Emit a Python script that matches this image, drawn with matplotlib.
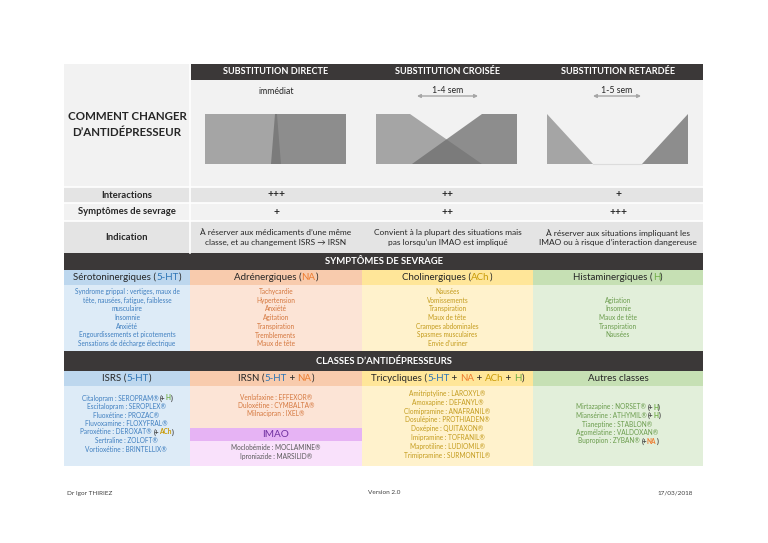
import matplotlib
matplotlib.use("Agg")
import matplotlib.pyplot as plt
from matplotlib.patches import Rectangle, Polygon

plt.rcParams['font.family'] = ['Lato', 'DejaVu Sans']

# ------ donnees ------
titre = ["COMMENT CHANGER", "D\u2019ANTIDÉPRESSEUR"]
methodes = ["SUBSTITUTION DIRECTE", "SUBSTITUTION CROISÉE", "SUBSTITUTION RETARDÉE"]
delais = ["immédiat", "1-4 sem", "1-5 sem"]
lignes = ["Interactions", "Symptômes de sevrage", "Indication"]
interactions = ["+++", "++", "+"]
sevrage = ["+", "++", "+++"]
indications = [
    "À réserver aux médicaments d\u2019une même\nclasse, et au changement ISRS \u2192 IRSN",
    "Convient à la plupart des situations mais\npas lorsqu\u2019un IMAO est impliqué",
    "À réserver aux situations impliquant les\nIMAO ou à risque d\u2019interaction dangereuse",
]

titre_sevrage = "SYMPTÔMES DE SEVRAGE"
familles = [("Sérotoninergiques", ["5-HT"]), ("Adrénergiques", ["NA"]),
            ("Cholinergiques", ["ACh"]), ("Histaminergiques", ["H"])]
sympt_5ht = ["Syndrome grippal : vertiges, maux de", "tête, nausées, fatigue, faiblesse",
             "musculaire", "Insomnie", "Anxiété", "Engourdissements et picotements",
             "Sensations de décharge électrique"]
sympt_na = ["Tachycardie", "Hypertension", "Anxiété", "Agitation", "Transpiration",
            "Tremblements", "Maux de tête"]
sympt_ach = ["Nausées", "Vomissements", "Transpiration", "Maux de tête",
             "Crampes abdominales", "Spasmes musculaires", "Envie d\u2019uriner"]
sympt_h = ["Agitation", "Insomnie", "Maux de tête", "Transpiration", "Nausées"]

titre_classes = "CLASSES D\u2019ANTIDÉPRESSEURS"
classes = [("ISRS", ["5-HT"]), ("IRSN", ["5-HT", "NA"]),
           ("Tricycliques", ["5-HT", "NA", "ACh", "H"]), ("Autres classes", [])]
isrs = [("Citalopram : SEROPRAM®", "H"), ("Escitalopram : SEROPLEX®", None),
        ("Fluoxétine : PROZAC®", None), ("Fluvoxamine : FLOXYFRAL®", None),
        ("Paroxétine : DEROXAT®", "ACh"), ("Sertraline : ZOLOFT®", None),
        ("Vortioxétine : BRINTELLIX®", None)]
irsn = ["Venlafaxine : EFFEXOR®", "Duloxétine : CYMBALTA®", "Milnacipran : IXEL®"]
imao = ["Moclobémide : MOCLAMINE®", "Iproniazide : MARSILID®"]
tricycliques = ["Amitriptyline : LAROXYL®", "Amoxapine : DEFANYL®",
                "Clomipramine : ANAFRANIL®", "Dosulépine : PROTHIADEN®",
                "Doxépine : QUITAXON®", "Imipramine : TOFRANIL®",
                "Maprotiline : LUDIOMIL®", "Trimipramine : SURMONTIL®"]
autres = [("Mirtazapine : NORSET®", "H"), ("Miansérine : ATHYMIL®", "H"),
          ("Tianeptine : STABLON®", None), ("Agomélatine : VALDOXAN®", None),
          ("Bupropion : ZYBAN®", "NA")]

pied = ["Dr Igor THIRIEZ", "Version 2.0", "17/03/2018"]

# ------ styles ------
SOMBRE = '#3b3838'
TXT = '#262626'
nt_col = {"5-HT": '#2e75b6', "NA": '#ed7d31', "ACh": '#c99a06', "H": '#70ad47'}
entete_bg = ['#bdd7ee', '#f8cbad', '#ffe699', '#c6e0b4']
corps_bg = ['#ddebf7', '#fce4d6', '#fff2cc', '#e2efda']
corps_txt = ['#3f7fc0', '#d5773e', '#c49b1c', '#6a9c4c']
cols = [64, 190, 362, 533, 703]

fig = plt.figure(figsize=(7.68, 5.43), dpi=100)
fig.patch.set_facecolor('white')
ax = fig.add_axes([0, 0, 1, 1])
ax.set_xlim(0, 768)
ax.set_ylim(543, 0)
ax.axis('off')
rend = fig.canvas.get_renderer()


def rect(x0, y0, x1, y1, c):
    ax.add_patch(Rectangle((x0, y0), x1 - x0, y1 - y0, facecolor=c, edgecolor='none'))


def largeur(s, size, weight):
    t = ax.text(0, 0, '|' + s + '|', fontsize=size, fontweight=weight)
    t2 = ax.text(0, 0, '||', fontsize=size, fontweight=weight)
    w = t.get_window_extent(rend).width - t2.get_window_extent(rend).width
    t.remove()
    t2.remove()
    return w


def riche(x, y, parts, size, weight='normal'):
    # parts: (texte, couleur[, graisse])
    ws = [largeur(p[0], size, p[2] if len(p) > 2 else weight) for p in parts]
    x0 = x - sum(ws) / 2
    for p, w in zip(parts, ws):
        ax.text(x0, y, p[0], color=p[1], fontsize=size,
                fontweight=p[2] if len(p) > 2 else weight, ha='left', va='center')
        x0 += w


def entete_nt(nom, nts):
    parts = [(nom, TXT)]
    if nts:
        parts[0] = (nom + " (", TXT)
        for i, n in enumerate(nts):
            if i:
                parts.append((" + ", TXT))
            parts.append((n, nt_col[n]))
        parts.append((")", TXT))
    return parts


def liste(x, y0, pas, items, c, size=4.7):
    for i, it in enumerate(items):
        if isinstance(it, tuple):
            nom, extra = it
            parts = [(nom + " ", c)]
            if extra:
                parts += [("(+", '#404040', 'bold'), (extra, nt_col[extra], 'bold'),
                          (")", '#404040', 'bold')]
            riche(x, y0 + i * pas, parts, size)
        else:
            ax.text(x, y0 + i * pas, it, color=c, fontsize=size, ha='center', va='center')


# ------ partie haute ------
rect(64, 64, 703, 187, '#f2f2f2')
rect(191, 64, 703, 80, SOMBRE)
for i, s in enumerate(titre):
    ax.text(127, 117 + i * 16, s, fontsize=8.3, fontweight='bold', color=TXT,
            ha='center', va='center')
mid = [(cols[i + 1] + cols[i + 2]) / 2 for i in range(3)]
for m, s in zip(mid, methodes):
    ax.text(m, 72, s, fontsize=6.6, fontweight='bold', color='white', ha='center', va='center')

# delais et fleches
ax.text(mid[0], 91, delais[0], fontsize=6.3, color=TXT, ha='center', va='center')
fleches = [None, (417, 478), (593, 641)]
for m, d, f in zip(mid[1:], delais[1:], fleches[1:]):
    ax.text((f[0] + f[1]) / 2, 90.5, d, fontsize=6.3, color=TXT, ha='center', va='center')
    ax.annotate('', xy=(f[0], 96), xytext=(f[1], 96),
                arrowprops=dict(arrowstyle='<|-|>', color='#a6a6a6', lw=1.0,
                                mutation_scale=5, shrinkA=0, shrinkB=0))

# schemas
gris = '#6e6e6e'
formes = {
    'directe': [[(205, 114), (277, 114), (281, 164), (205, 164)],
                [(275, 114), (346, 114), (346, 164), (271, 164)]],
    'croisee': [[(376, 114), (410, 114), (482, 164), (376, 164)],
                [(482, 114), (517, 114), (517, 164), (412, 164)]],
    'retardee': [[(547, 114), (547, 164), (593, 164)],
                 [(688, 114), (688, 164), (642, 164)]],
}
for k, (a, b) in formes.items():
    ax.add_patch(Polygon(a, closed=True, facecolor=gris, alpha=0.58, edgecolor='none'))
    ax.add_patch(Polygon(b, closed=True, facecolor=gris, alpha=0.76, edgecolor='none'))
ax.plot([593, 642], [164, 164], color='#dcdcdc', lw=0.8)

# lignes du tableau
rows = [187, 203, 221, 253]
row_bg = ['#e4e4e4', '#f2f2f2', '#e4e4e4']
for i in range(3):
    rect(64, rows[i], 703, rows[i + 1], row_bg[i])
    ax.plot([64, 703], [rows[i], rows[i]], color='white', lw=1.2)
    ax.text(127, (rows[i] + rows[i + 1]) / 2, lignes[i], fontsize=6.8, fontweight='bold',
            color=TXT, ha='center', va='center')
for m, a, b, c in zip(mid, interactions, sevrage, indications):
    ax.text(m, 195, a, fontsize=7.5, fontweight='bold', color=TXT, ha='center', va='center')
    ax.text(m, 212, b, fontsize=7.5, fontweight='bold', color=TXT, ha='center', va='center')
    ax.text(m, 237.5, c, fontsize=6.0, color=TXT, ha='center', va='center', linespacing=1.35)
ax.plot([190, 190], [64, 253], color='white', lw=1.2)

# ------ symptomes de sevrage ------
rect(64, 253, 703, 270, SOMBRE)
ax.text(384, 262, titre_sevrage, fontsize=6.8, fontweight='bold', color='white',
        ha='center', va='center')
sympt = [sympt_5ht, sympt_na, sympt_ach, sympt_h]
for i in range(4):
    cx = (cols[i] + cols[i + 1]) / 2
    rect(cols[i], 270, cols[i + 1], 285, entete_bg[i])
    rect(cols[i], 285, cols[i + 1], 351, corps_bg[i])
    riche(cx, 277.5, entete_nt(*familles[i]), 7.0)
    y0 = 300 if len(sympt[i]) == 5 else 291.5
    liste(cx, y0, 8.7, sympt[i], corps_txt[i])

# ------ classes ------
rect(64, 351, 703, 371, SOMBRE)
ax.text(384, 361, titre_classes, fontsize=6.8, fontweight='bold', color='white',
        ha='center', va='center')
for i in range(4):
    cx = (cols[i] + cols[i + 1]) / 2
    rect(cols[i], 371, cols[i + 1], 386, entete_bg[i])
    rect(cols[i], 386, cols[i + 1], 466, corps_bg[i])
    riche(cx, 378.5, entete_nt(*classes[i]), 7.0)
cx = [(cols[i] + cols[i + 1]) / 2 for i in range(4)]
# IMAO
rect(190, 428, 362, 441, '#e6b3f4')
rect(190, 441, 362, 466, '#f9e1fb')
ax.text(cx[1], 434.5, "IMAO", fontsize=7.2, color='#7030a0', ha='center', va='center')
liste(cx[0], 398, 8.5, isrs, corps_txt[0])
liste(cx[1], 397, 8.3, irsn, corps_txt[1])
liste(cx[1], 447.5, 8.5, imao, '#595959')
liste(cx[2], 393.5, 8.8, tricycliques, corps_txt[2])
liste(cx[3], 407, 8.5, autres, corps_txt[3])

# ------ pied de page ------
ax.text(67, 493, pied[0], fontsize=4.6, color='#404040', ha='left', va='center')
ax.text(384, 493, pied[1], fontsize=4.6, color='#404040', ha='center', va='center')
ax.text(693, 493, pied[2], fontsize=4.6, color='#404040', ha='right', va='center')

fig.savefig('out.png', dpi=100)
